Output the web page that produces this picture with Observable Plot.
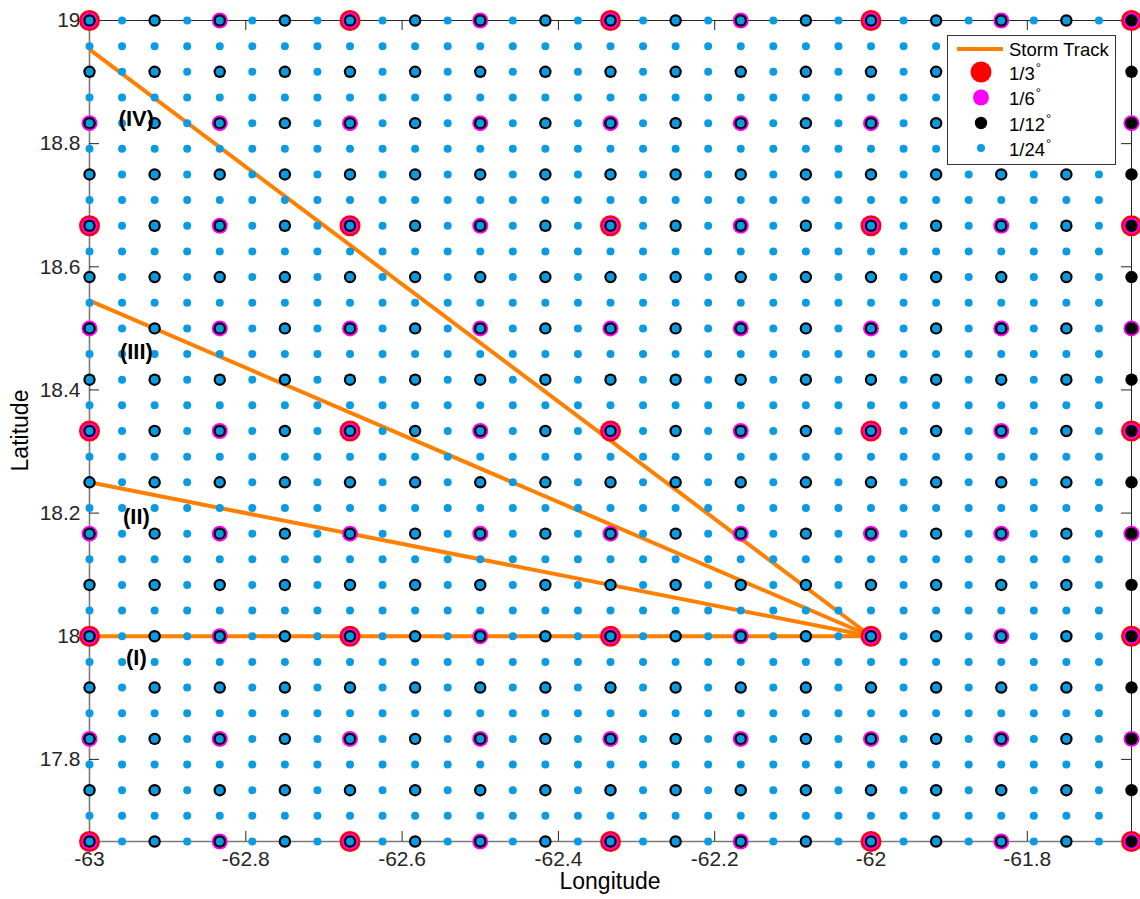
<!DOCTYPE html>
<html><head><meta charset="utf-8">
<script src="https://cdn.jsdelivr.net/npm/d3@7"></script>
<script src="https://cdn.jsdelivr.net/npm/@observablehq/plot@0.6"></script>
<style>body{margin:0;background:#fff;} svg{display:block}</style>
</head><body><div id="chart"></div>
<script>
// Domain
const lonMin = -63, lonMax = -61 - 2/3;
const latMin = 17 + 2/3, latMax = 19;

// Grid resolutions (drawn coarse -> fine)
const gridNames  = ["1/3", "1/6", "1/12", "1/24"];
const gridSteps  = [1/3, 1/6, 1/12, 1/24];
const gridLonCounts = [5, 9, 17, 32];
const gridLatCounts = [5, 9, 17, 33];
const gridColors = ["#ff0000", "#ff00ff", "#000000", "#0b9be3"];

// Storm tracks (all converge at -62, 18)
const trackStartLon = -62, trackStartLat = 18;
const trackEndLon = [-63, -63, -63, -63];
const trackEndLat = [18, 18.25, 18.545, 18.953];
const trackLabels = ["(I)", "(II)", "(III)", "(IV)"];
const trackLabelLon = [-62.94, -62.94, -62.94, -62.94];
const trackLabelLat = [17.964, 18.193, 18.462, 18.84];

// Ticks
const xTicks = [-63, -62.8, -62.6, -62.4, -62.2, -62, -61.8];
const yTicks = [17.8, 18, 18.2, 18.4, 18.6, 18.8, 19];

// Build tables
const grids = gridSteps.map((s, g) => {
  const pts = [];
  for (let i = 0; i < gridLonCounts[g]; i++)
    for (let j = 0; j < gridLatCounts[g]; j++)
      pts.push({lon: lonMin + i * s, lat: latMin + j * s});
  return pts;
});
const tracks = trackEndLon.map((lon, i) => ({x1: trackStartLon, y1: trackStartLat, x2: lon, y2: trackEndLat[i]}));
const labels = trackLabels.map((t, i) => ({t, lon: trackLabelLon[i], lat: trackLabelLat[i]}));

const W = 1140, H = 899, mL = 89, mR = 9, mT = 20, mB = 58;
const fw = W - mL - mR, fh = H - mT - mB;
const radii = [10.5, 8, 6.2, 4];
const font = "'Liberation Sans', Arial, Helvetica, sans-serif";
const axisColor = "#262626";

const chart = Plot.plot({
  width: W, height: H,
  marginLeft: mL, marginRight: mR, marginTop: mT, marginBottom: mB,
  style: {fontFamily: font, background: "white", color: axisColor},
  x: {domain: [lonMin, lonMax]},
  y: {domain: [latMin, latMax]},
  marks: [
    // frame
    Plot.ruleX([lonMin], {stroke: "#7a7a7a", strokeWidth: 1.6}),
    Plot.ruleY([latMin], {stroke: "#7a7a7a", strokeWidth: 1.6}),
    Plot.ruleX([lonMax], {stroke: axisColor}),
    Plot.ruleY([latMax], {stroke: axisColor}),
    // inward ticks
    Plot.ruleX(xTicks, {stroke: axisColor, insetTop: fh - 10}),
    Plot.ruleX(xTicks, {stroke: axisColor, insetBottom: fh - 10}),
    Plot.ruleY(yTicks, {stroke: axisColor, insetRight: fw - 10}),
    Plot.ruleY(yTicks, {stroke: axisColor, insetLeft: fw - 10}),
    Plot.axisX({ticks: xTicks, tickSize: 0, tickPadding: 10, fontSize: 21, fill: axisColor, label: null, tickFormat: d => String(d)}),
    Plot.axisY({ticks: yTicks, tickSize: 0, tickPadding: 9, fontSize: 21, fill: axisColor, label: null, tickFormat: d => String(d)}),
    // tracks
    Plot.link(tracks, {x1: "x1", y1: "y1", x2: "x2", y2: "y2", stroke: "#ff8000", strokeWidth: 4}),
    // grids
    ...grids.map((pts, g) => Plot.dot(pts, {x: "lon", y: "lat", r: radii[g], fill: gridColors[g], stroke: "none"})),
    // track labels
    Plot.text(labels, {x: "lon", y: "lat", text: "t", fontSize: 22, fontWeight: "bold", fill: "#000"})
  ]
});
document.getElementById("chart").appendChild(chart);

const svg = d3.select(chart);
svg.append("text").attr("x", mL + fw / 2).attr("y", 889).attr("text-anchor", "middle")
  .style("font-family", font).style("font-size", "23px").attr("fill", "#000").text("Longitude");
svg.append("text").attr("transform", `translate(28,${mT + fh / 2}) rotate(-90)`).attr("text-anchor", "middle")
  .style("font-family", font).style("font-size", "23px").attr("fill", "#000").text("Latitude");

// Legend
const lg = svg.append("g").attr("fill", "#000").attr("text-anchor", "start");
lg.append("rect").attr("x", 947.5).attr("y", 35.5).attr("width", 168).attr("height", 129)
  .attr("fill", "white").attr("stroke", "#333");
lg.append("line").attr("x1", 957).attr("x2", 1003).attr("y1", 49).attr("y2", 49)
  .attr("stroke", "#ff8000").attr("stroke-width", 4);
lg.append("text").attr("x", 1009).attr("y", 55.5).attr("text-anchor", "start")
  .style("font-family", font).style("font-size", "18.5px").text("Storm Track");
const rows = [72, 97.5, 123, 148];
gridNames.forEach((n, g) => {
  lg.append("circle").attr("cx", 981).attr("cy", rows[g]).attr("r", radii[g]).attr("fill", gridColors[g]);
  const t = lg.append("text").attr("x", 1009).attr("y", rows[g] + 7.5).attr("text-anchor", "start")
    .style("font-family", font).style("font-size", "18.5px");
  t.append("tspan").text(n);
  t.append("tspan").attr("dy", -8).attr("dx", 1).style("font-size", "13px").text("°");
});
</script></body></html>
